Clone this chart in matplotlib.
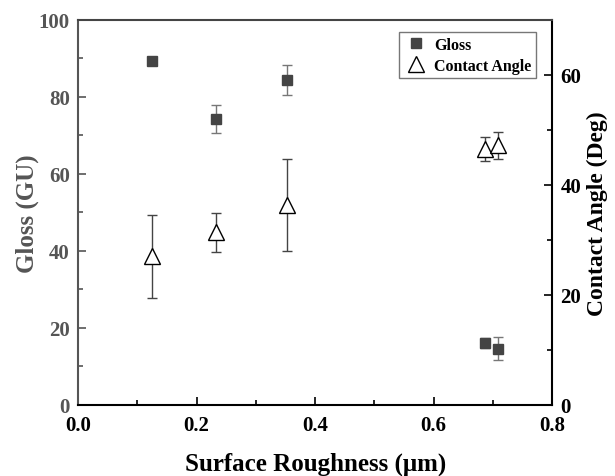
import matplotlib.pyplot as plt
from matplotlib.ticker import MultipleLocator

plt.rcParams.update({'font.family': ['Liberation Serif', 'DejaVu Serif'],
                     'font.weight': 'bold', 'axes.labelweight': 'bold'})

# roughness (um)
roughness = [0.124, 0.233, 0.353, 0.687, 0.708]
gloss = [89.4, 74.3, 84.4, 16.1, 14.6]
gloss_err = [0.0, 3.6, 4.0, 1.3, 3.0]
contact_angle = [27.0, 31.4, 36.4, 46.6, 47.2]
contact_err = [7.5, 3.5, 8.4, 2.2, 2.5]

grey = '#555555'

fig = plt.figure(figsize=(6.15, 4.77), dpi=100)
ax = fig.add_axes([0.127, 0.149, 0.771, 0.807])
ax2 = ax.twinx()

h1 = ax.errorbar(roughness, gloss, yerr=gloss_err, fmt='s', ms=7,
                 color='#444444', ecolor='#777777', elinewidth=1,
                 capsize=3.5, capthick=1, label='Gloss')
h2 = ax2.errorbar(roughness, contact_angle, yerr=contact_err, fmt='^', ms=11,
                  mfc='white', mec='black', mew=1, ecolor='#444444',
                  elinewidth=1, capsize=3.5, capthick=1, label='Contact Angle')

ax.set_xlim(0, 0.8)
ax.set_ylim(0, 100)
ax2.set_ylim(0, 70)
ax.xaxis.set_major_locator(MultipleLocator(0.2))
ax.xaxis.set_minor_locator(MultipleLocator(0.1))
ax.yaxis.set_major_locator(MultipleLocator(20))
ax.yaxis.set_minor_locator(MultipleLocator(10))
ax2.yaxis.set_major_locator(MultipleLocator(20))
ax2.yaxis.set_minor_locator(MultipleLocator(10))

for a in (ax, ax2):
    a.tick_params(which='both', direction='in', labelsize=15, width=1.2)
    a.tick_params(which='major', length=6)
    a.tick_params(which='minor', length=3.5)
ax.tick_params(axis='y', which='both', colors=grey, labelcolor=grey, pad=6)
ax.tick_params(axis='x', colors='black', pad=7)
ax2.tick_params(axis='y', which='both', colors='black', right=True, left=False, pad=6)

ax2.spines['left'].set_color(grey)
ax2.spines['top'].set_color('#444444')
ax2.spines['right'].set_color('black')
ax2.spines['bottom'].set_color('black')
for s in ax2.spines.values():
    s.set_linewidth(1.5)
for s in ax.spines.values():
    s.set_visible(False)

ax.set_xlabel('Surface Roughness (μm)', fontsize=18, labelpad=12)
ax.set_ylabel('Gloss (GU)', fontsize=18, color=grey, labelpad=0)
ax2.set_ylabel('Contact Angle (Deg)', fontsize=17, labelpad=4)

leg = ax2.legend([h1[0], h2[0]], ['Gloss', 'Contact Angle'], loc='upper right',
                 bbox_to_anchor=(0.966, 0.969), borderaxespad=0, fancybox=False,
                 fontsize=11.5, edgecolor='#555555', handletextpad=0.4,
                 handlelength=1.5, borderpad=0.3, labelspacing=0.3)
leg.get_frame().set_linewidth(1)

fig.savefig('out.png', dpi=100)
